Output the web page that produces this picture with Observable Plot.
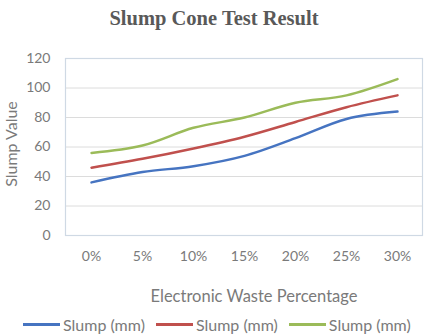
<!DOCTYPE html>
<html>
<head>
<meta charset="utf-8">
<script src="https://cdn.jsdelivr.net/npm/d3@7"></script>
<script src="https://cdn.jsdelivr.net/npm/@observablehq/plot@0.6"></script>
<style>
  html, body { margin: 0; padding: 0; background: #fff; }
  #chart { position: relative; width: 426px; height: 336px; font-family: Lato, "Open Sans", sans-serif; color: #7a7a7a; }
  #title { position: absolute; left: 0; width: 428px; top: 7px; text-align: center;
           font-family: "Liberation Serif", "DejaVu Serif", serif; font-weight: bold; font-size: 20.5px; color: #595959; }
  #ytitle { position: absolute; left: 11px; top: 144px; transform: translate(-50%, -50%) rotate(-90deg);
            font-size: 16px; line-height: 18px; white-space: nowrap; }
  #xtitle { position: absolute; left: 65px; width: 378px; top: 286px; text-align: center; font-size: 16.5px; }
  #legend { position: absolute; left: 23px; top: 315px; display: flex; gap: 11px; font-size: 16px; white-space: nowrap; }
  .item { display: flex; align-items: center; }
  .swatch { width: 37px; height: 3px; margin-right: 3px; }
  #plot { position: absolute; left: 0; top: 0; }
</style>
</head>
<body>
<div id="chart">
  <div id="plot"></div>
  <div id="title">Slump Cone Test Result</div>
  <div id="ytitle">Slump Value</div>
  <div id="xtitle">Electronic Waste Percentage</div>
  <div id="legend"></div>
</div>
<script>
// E-waste replacement levels
const percentages = ["0%", "5%", "10%", "15%", "20%", "25%", "30%"];
// Three slump series, each labelled "Slump (mm)"
const seriesNames = ["Slump (mm) A", "Slump (mm) B", "Slump (mm) C"];
const seriesLabels = ["Slump (mm)", "Slump (mm)", "Slump (mm)"];
const slumpA = [36, 43, 47, 54, 66, 79, 84];
const slumpB = [46, 52, 59, 67, 77, 87, 95];
const slumpC = [56, 61, 73, 80, 90, 95, 106];
const colors = ["#4674c1", "#c0504d", "#9bbb59"];
const yTicks = [0, 20, 40, 60, 80, 100, 120];

const allSeries = [slumpA, slumpB, slumpC];
const rows = allSeries.flatMap((vals, s) =>
  vals.map((v, i) => ({series: seriesNames[s], pct: percentages[i], value: v}))
);

const plot = Plot.plot({
  width: 426,
  height: 336,
  marginLeft: 65,
  marginRight: 4,
  marginTop: 58,
  marginBottom: 101,
  style: {fontFamily: "Lato, 'Open Sans', sans-serif", fontSize: "14px", color: "#7a7a7a", background: "#fff"},
  x: {type: "point", domain: percentages, padding: 0.5, label: null},
  y: {domain: [0, 120], ticks: yTicks, label: null},
  color: {domain: seriesNames, range: colors},
  marks: [
    Plot.gridY(yTicks, {stroke: "#dcdcdc", strokeOpacity: 1, strokeWidth: 1}),
    Plot.frame({stroke: "#cfd9e4", strokeWidth: 1.2}),
    Plot.axisY({ticks: yTicks, tickSize: 0, tickPadding: 15, fontSize: 14, label: null}),
    Plot.axisX({tickSize: 0, tickPadding: 16, fontSize: 14, label: null}),
    Plot.line(rows, {x: "pct", y: "value", z: "series", stroke: "series", strokeWidth: 2.5, curve: "monotone-x"})
  ]
});
document.getElementById("plot").appendChild(plot);

// Legend built from the same series names and colours
const legend = d3.select("#legend");
seriesNames.forEach((name, i) => {
  const item = legend.append("div").attr("class", "item");
  item.append("div").attr("class", "swatch").style("background", colors[i]);
  item.append("span").text(seriesLabels[i]);
});
</script>
</body>
</html>
